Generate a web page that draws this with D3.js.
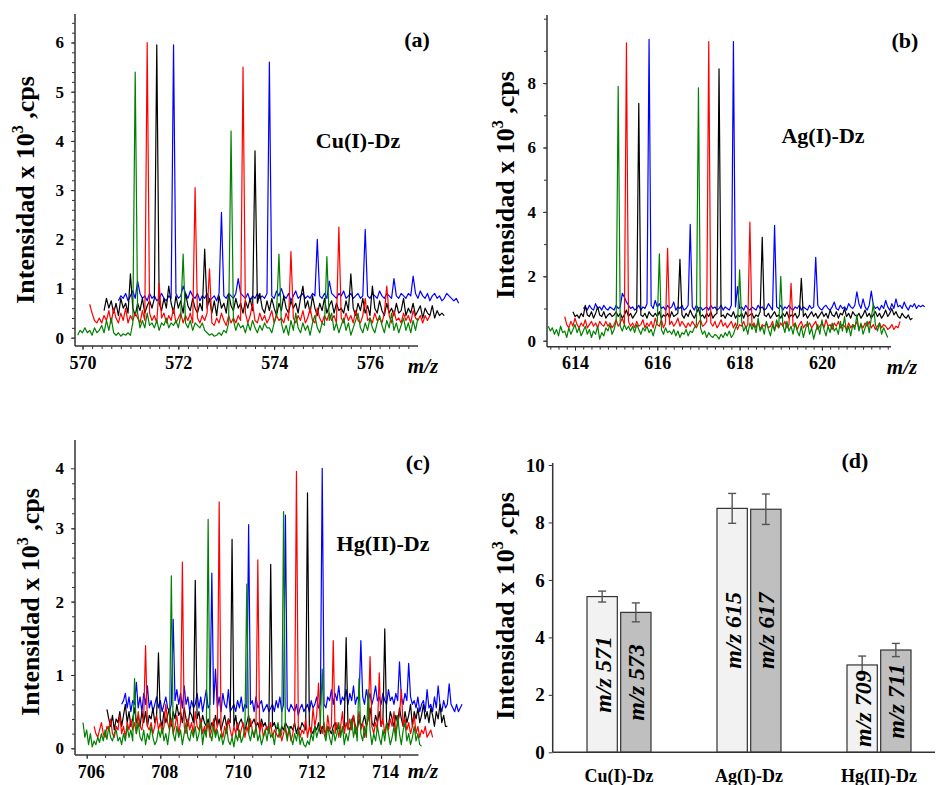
<!DOCTYPE html>
<html>
<head>
<meta charset="utf-8">
<script src="https://cdn.jsdelivr.net/npm/d3@7"></script>
<style>
  body { margin: 0; background: #fff; }
  svg text { font-family: "Liberation Serif", "Times New Roman", serif; font-weight: bold; fill: #000; }
</style>
</head>
<body>
<svg id="chart" width="937" height="785"></svg>
<script>
// sampling step of every spectrum (m/z)
const step = 0.05;

// ---- (a) Cu(I)-Dz, intensities x10^3 cps, one line per m/z unit
const aStart = [569.9, 570.15, 570.45, 570.75]; // green, red, black, blue
const aGreen = [
  .05,.15,.1,.2,.1,.15,.05,.2,.1,.15,.25,.1,.35,.15,.4,.1,.05,.1,.03,.08,
  .05,.1,.05,.3,5.4,.5,.2,.35,.2,.5,.25,.3,.2,.35,.15,.3,.25,.4,.2,.3,
  .25,.35,.2,.45,1.7,.3,.2,.35,.15,.3,.25,.2,.3,.15,.1,.05,.08,.03,.05,.1,
  .05,.15,.1,.3,4.2,.35,.15,.3,.2,.25,.1,.3,.15,.35,.2,.1,.25,.15,.3,.2,
  .2,.1,.3,.5,1.7,.3,.1,.25,.05,.35,.15,.5,.2,.1,.3,.15,.25,.05,.3,.45,
  .2,.1,.3,.25,1.65,.35,.5,.15,.3,.1,.25,.4,.15,.3,.05,.2,.35,.5,.2,.1,
  .3,.15,.4,.2,.1,.3,.45,.25,.1,.35,.2,.5,.15,.3,.1,.25,.4,.15,.3,.1,
  .35,.15,.4
];
const aRed = [
  .68,.5,.35,.3,.4,.3,.45,.35,.55,.3,.6,.4,.3,.5,.35,.6,.3,.45,.35,.5,
  .4,.3,.55,.35,6.0,.5,.35,.45,.3,1.1,.4,.5,.3,.45,.35,.6,.3,.4,.5,.3,
  .45,.35,.5,.3,3.05,.4,.3,.45,.35,.5,1.4,.3,.25,.4,.3,.5,.35,.25,.45,.3,
  .4,.3,.45,.35,5.5,.5,.3,.45,.7,.35,.3,.5,.35,.45,.3,.4,.55,.3,.45,.35,
  .4,.3,.5,.35,1.75,.4,.3,.45,.35,.55,.3,.4,.6,.35,.3,.6,.4,.3,.45,.35,
  .5,.35,.45,.3,2.25,.4,.3,.5,.35,.45,.3,.55,.35,.3,.45,.8,.35,.4,.3,.5,
  .35,.4,.3,.5,1.05,.45,.3,.55,.35,.4,.3,.5,.35,.45,.3,.55,.4,.35,.45,.3,
  .45,.35,.45
];
const aBlack = [
  .55,.8,.6,.75,.5,.7,.45,.8,.6,.7,.5,1.3,.6,.45,.7,.55,.8,.5,.65,.75,
  .6,.8,5.95,.7,.55,.8,.6,1.05,.7,.5,.85,.6,.75,.5,.9,.65,.55,.8,.6,.5,
  .7,.55,1.8,.6,.8,.5,.75,.45,.85,.6,.7,.5,.9,.65,.55,.8,.6,.7,.5,.75,
  .6,.8,.55,3.8,.7,.9,.6,.5,.75,.55,.8,.6,.45,.7,.55,.85,.6,.5,.75,.6,
  .7,.5,.8,1.05,.6,.75,.5,.85,.6,.45,.7,.55,.8,.5,.65,.75,.5,.7,.55,.6,
  .5,.75,.55,1.3,.6,.45,.7,.55,.8,.5,.65,.45,1.05,.6,.5,.75,.55,.45,.7,.5,
  .6,.45,.7,.5,.55,.8,.45,.6,.5,.7,.45,.55,.65,.4,.6,.5,.45,.65,.4,.55,
  .45,.5,.45
];
const aBlue = [
  .75,.85,.8,.9,.75,.85,.95,.8,1.15,.9,.8,.85,.75,.9,.8,.85,.75,.8,.9,.8,
  .75,.85,.8,5.95,.9,.8,.85,1.05,.9,.8,.95,.85,.8,.9,.75,.85,.8,.9,.75,.8,
  .85,.75,.9,2.55,.85,.8,.9,.85,.8,.9,1.2,.9,.85,.8,.9,.75,.85,.8,.9,.8,
  .85,.8,.9,5.6,.85,.8,.95,.85,1.0,.85,.8,.9,.75,.85,.95,.8,.85,.9,.8,.85,
  .8,.9,.85,2.0,.85,.8,.9,.8,1.15,.9,.85,.8,.9,.85,.95,.8,.85,.9,.8,.85,
  .9,.8,.85,2.2,.85,.8,.9,.85,.8,.95,.85,.8,.9,.85,.8,1.2,.85,.8,.9,.85,
  .8,.9,.85,1.25,.9,.8,.95,.85,.8,.9,.75,.85,.9,.8,.85,.75,.8,.9,.85,.8,
  .75,.8,.7
];
const aXTicks = [570, 572, 574, 576];
const aYTicks = [0, 1, 2, 3, 4, 5, 6];

// ---- (b) Ag(I)-Dz
const bStart = [613.35, 613.75, 613.95, 614.2];
const bGreen = [
  .45,.3,.4,.2,.35,.15,.45,.25,.3,.1,.4,.2,.35,.5,.25,.4,.15,.3,.45,.2,
  .35,.1,.3,.2,.45,.05,.25,.15,.4,.3,.5,.2,.35,.6,7.9,.45,.3,.5,.35,.45,
  .3,.45,.25,.5,.35,.2,.4,.3,.45,.25,.35,.15,.4,.6,2.7,.35,.2,.4,.25,.3,
  .2,.35,.15,.3,.1,.25,.2,.35,.15,.3,.25,.4,.5,7.85,.4,.2,.3,.1,.25,.15,
  .1,.2,.15,.05,.2,.1,.25,.15,.3,.1,.2,.4,.5,2.2,.6,.3,.45,.2,.55,.35,
  .5,.25,.7,.3,.45,.2,.6,.35,.15,.5,.3,.65,.4,2.0,.5,.25,.6,.3,.45,.2,
  .55,.3,.15,.45,.1,.35,.6,.2,.4,.05,.3,.5,.2,.65,.35,.15,.45,.25,.55,.3,
  .4,.2,.6,.3,.75,.25,.45,.15,.5,.35,.8,.3,.55,.2,.4,.6,.25,.7,1.15,.5,
  .3,.55,.2,.4,.25,.1
];
const bRed = [
  .75,.5,.4,.6,.45,.7,.5,.4,.55,.45,.65,.4,.5,.6,.45,.55,.4,.6,.5,.45,
  .6,.45,.55,.4,.5,.65,.45,.55,.7,.5,9.25,.6,.45,.55,.4,.6,.45,.5,.65,.4,
  .55,.45,.6,.4,.7,.5,.45,.65,.4,.55,2.87,.5,.6,.45,.55,.7,.45,.6,.5,.4,
  .55,.45,.6,.5,.4,.55,.65,.45,.5,.6,9.29,.55,.45,.6,.4,.5,.65,.45,.55,.4,
  .5,.6,.4,.55,.35,.5,.45,.6,.4,.5,3.68,.45,.55,.4,.6,.35,.5,.45,.55,.4,
  .45,.6,.35,.5,.4,.55,.45,.6,.4,.5,1.78,.45,.55,.35,.5,.6,.4,.5,.45,.55,
  .4,.5,.6,.35,.45,.55,.4,.65,.45,.5,.35,.55,.45,.6,.4,.5,.45,.35,.55,.4,
  .5,.45,.6,.35,.5,.4,.55,.45,.6,.4,.5,.35,.45,.55,.4,.5,.45,.35,.4,.5,
  .35,.45,.4,.6
];
const bBlack = [
  .9,.75,.8,.7,.85,.75,1.1,.8,.75,.9,.7,.85,1.05,.8,.75,.9,.7,.8,.85,.75,
  .8,.9,.75,.85,.7,.8,.95,.75,.85,.7,.8,.9,7.37,.8,.75,.85,.7,.9,.8,.75,
  .85,.75,.9,.7,.8,.75,.85,.7,.9,.75,.8,.85,2.53,.8,.7,.85,.75,.95,.8,.7,
  .85,1.0,.75,.8,.7,.85,.75,.9,.7,.8,.85,8.44,.75,.8,.7,.85,.8,.75,.9,.7,
  .8,.75,.85,.7,.9,.75,.8,.85,.7,.8,.75,.9,3.21,.8,.75,.85,.7,.8,.9,.75,
  .8,.7,.85,.75,.9,.7,.8,.75,.85,.7,.8,1.94,.75,.85,.7,.8,.9,.75,.85,.7,
  .8,.9,.75,.85,.7,.95,.8,.75,.9,.7,.85,.8,1.0,.75,.85,.7,.9,.8,.75,.85,
  .7,.8,.95,.75,.85,.7,.8,.9,.75,.85,.7,.8,.95,.75,.85,1.0,.8,.9,.75,.7,
  .85,.75,.7,.8,.65,.7
];
const bBlue = [
  1.0,1.05,.95,1.1,1.0,.95,1.15,1.0,1.05,.95,1.1,1.0,.95,1.05,1.0,.95,1.1,1.0,1.05,1.47,
  1.35,1.2,1.1,1.0,1.05,.95,1.0,1.1,.95,1.05,1.0,1.15,9.36,1.1,1.0,1.25,1.05,1.15,1.0,1.05,
  .95,1.1,1.0,1.05,1.2,.95,1.05,1.0,1.1,.95,1.0,1.1,3.61,1.05,.95,1.1,1.0,1.05,.95,1.0,
  1.05,.95,1.1,1.0,1.05,.95,1.0,1.1,.95,1.05,1.0,.95,1.1,9.29,1.05,1.68,1.0,1.05,.95,1.1,
  1.0,.95,1.05,1.0,.95,1.1,1.0,1.05,.95,1.0,1.15,1.05,.95,3.58,1.05,1.0,1.1,.95,1.05,1.0,
  1.1,1.0,.95,1.05,1.0,1.1,.95,1.05,1.0,.95,1.1,1.0,1.05,2.59,1.1,1.0,.95,1.05,1.1,1.0,
  .95,1.05,1.2,1.0,.95,1.1,1.0,1.05,.95,1.15,1.05,1.0,1.1,1.52,1.15,1.0,1.3,1.05,.95,1.1,
  1.54,1.1,1.0,1.05,.95,1.1,1.0,1.25,1.05,.95,1.15,1.0,1.3,1.05,1.1,1.0,1.2,1.05,.95,1.1,
  1.05,1.15,1.0,1.1,1.05,1.1,1.05
];
const bXTicks = [614, 616, 618, 620];
const bYTicks = [0, 2, 4, 6, 8];

// ---- (c) Hg(II)-Dz
const cStart = [705.9, 706.2, 706.55, 706.95];
const cGreen = [
  .35,.15,.25,.05,.2,.02,.1,.05,.15,.08,.2,.1,.25,.12,.3,.15,.1,.2,.25,.1,
  .15,.05,.2,.1,.3,.15,.25,.1,.95,.2,.35,.15,.1,.25,.05,.2,.12,.3,.15,.05,
  .1,.25,.15,.3,.1,.2,.05,.25,2.35,.2,.1,.3,.15,.25,.05,.2,.35,.15,.1,.25,
  .15,.3,.1,.2,.35,.05,.25,.15,3.15,.2,.1,.3,.15,.25,.1,.2,.05,.15,.3,.1,
  .05,.15,.02,.2,.1,.25,.08,.15,.3,2.24,.2,.1,.25,.15,.3,.1,.2,.05,.15,.25,
  .1,.3,.15,.2,.05,.25,.35,.15,.2,3.28,.25,.1,.3,.15,.05,.2,.1,.25,.05,.15,
  .05,.02,.1,.05,.2,.1,.3,.15,.25,.35,1.08,.2,.1,.3,.15,.05,.25,.1,.2,.35,
  .15,.3,.05,.2,.1,.25,.4,.15,.3,.1,.95,.2,.1,.3,.15,.8,.25,.05,.2,.1,
  .3,.15,.05,.25,.1,.35,.2,.05,.15,.3,.1,.45,.2,.05,.25,.35,.1,.2,.05,.15,
  .3,.1,.2,.05,.03
];
const cRed = [
  .3,.2,.15,.25,.35,.2,.15,.3,.25,.4,.2,.15,.3,.25,.45,.2,.3,.15,.35,.25,
  .4,.25,.35,.2,.5,.3,.25,.45,1.4,.3,.25,.35,.2,.3,.45,.25,.35,.2,.3,.6,
  .35,.25,.4,.2,.3,.45,.2,.35,2.54,.3,.2,.4,.25,.35,.2,.5,.3,.25,.4,.2,
  .3,.2,.35,.15,.25,.4,.2,.3,3.44,.25,.15,.3,.2,.4,.25,.15,.3,.2,.35,.15,
  .25,.35,.15,.3,.2,.4,.25,.15,.3,2.57,.2,.35,.15,.25,.3,.2,.35,.15,.25,.2,
  .15,.25,.1,.2,.3,.15,.25,.1,.2,.35,3.95,.3,.15,.25,.2,.4,.15,.3,.2,.55,
  .3,.45,.89,.3,.2,.35,.15,.45,.25,.3,1.47,.2,.35,.15,.3,.5,.2,.35,.25,.4,
  .25,.45,.2,.3,.5,.25,.35,.15,.3,.4,1.25,.3,.2,.35,.25,1.03,.3,.4,.2,.35,
  .25,.4,.3,.5,.2,.35,.45,.8,.3,.4,.25,.35,.2,.3,.45,.2,.3,.15,.25,.2,
  .3,.15,.2,.25,.15
];
const cBlack = [
  .53,.4,.3,.45,.25,.4,.35,.5,.3,.45,.6,.35,.5,.3,.4,.55,.35,.45,.3,.5,
  .35,.5,.3,.45,.4,.55,.35,.45,1.3,.4,.3,.5,.35,.45,.55,.3,.5,.4,.6,.45,
  .5,.35,.55,.4,.3,.5,.45,.35,2.29,.4,.5,.3,.45,.35,.3,.4,.25,.35,.3,.45,
  .3,.4,.25,.35,.45,.3,.4,.35,2.85,.3,.45,.25,.35,.4,.3,.25,.35,.45,.3,.35,
  .4,.3,.35,.25,.4,.3,.35,.25,.3,2.51,.3,.35,.25,.3,.2,.3,.25,.35,.3,.25,
  .3,.25,.35,.2,.3,.25,.35,.3,.25,3.59,.3,.25,.2,.3,.25,.35,.2,.3,.25,.2,
  .3,.25,.2,.3,.35,.25,.3,.2,.25,.3,1.51,.3,.25,.35,.45,.3,.25,.4,.3,.35,
  .45,.3,.4,.55,.35,.3,.45,.35,.5,.3,.4,1.63,.35,.3,.5,.4,.3,.45,.35,.55,
  .4,.3,.5,.35,.45,.6,.3,.5,.4,.55,.35,.45,.6,.4,.5,.35,.55,.45,.3,.5,
  .4,.6,.35,.45,.3,.3
];
const cBlue = [
  .6,.65,.75,.55,.7,.5,.65,.6,.9,.55,.7,.5,.75,.6,.85,.55,.65,.5,.6,.7,
  .55,.65,.5,.6,.7,.55,.5,.6,1.76,.65,.8,.6,.75,.55,.85,.6,.7,.5,.65,.55,
  .6,.75,.55,.7,.5,.65,.8,.55,.6,2.39,.6,1.08,.55,.7,.5,.75,.6,.55,.8,.5,
  .55,.6,.5,.65,.55,.7,.5,.6,.55,3.06,.6,.65,.5,.7,.55,.6,.65,.5,.55,.6,
  .5,.55,.6,.5,.65,.55,.7,.5,.6,3.22,.55,.5,.6,.55,.5,.6,.45,.55,.6,.5,
  .55,.6,.5,.65,.55,.6,.7,.55,.6,4.0,.6,.55,.7,.65,.8,.6,.75,.65,.85,.6,
  .7,.65,.8,.6,.75,.65,.85,.6,.7,.65,1.47,.7,.6,.8,.65,.75,.6,.7,.85,.65,
  .7,.6,.75,.65,.6,.8,.65,.7,.6,.75,.65,1.18,.7,.6,.75,.65,1.16,.7,.6,.65,
  .55,.7,.5,.6,.65,.5,.8,.55,.6,.5,.7,.55,.85,.6,.5,.65,.55,.6,.88,.6,
  .55,.5,.6,.5,.55,.6
];
const cXTicks = [706, 708, 710, 712, 714];
const cYTicks = [0, 1, 2, 3, 4];

// ---- (d) mean intensities of the main isotopes
const barGroups = ["Cu(I)-Dz", "Ag(I)-Dz", "Hg(II)-Dz"];
const barIons = [["m/z 571", "m/z 573"], ["m/z 615", "m/z 617"], ["m/z 709", "m/z 711"]];
const barMeans = [[5.42, 4.87], [8.49, 8.46], [3.04, 3.56]];
const barErrors = [[0.19, 0.33], [0.52, 0.53], [0.31, 0.23]];
const dYTicks = [0, 2, 4, 6, 8, 10];

const traceColors = ["#008000", "#ff0000", "#000000", "#0000ff"];

const svg = d3.select("#chart");

//draws the y axis title with the superscript
function yTitle(cx, cy) {
  const t = svg.append("text")
    .attr("transform", `translate(${cx},${cy}) rotate(-90)`)
    .attr("text-anchor", "middle")
    .attr("dy", "0.35em")
    .attr("font-size", 26);
  t.append("tspan").text("Intensidad x 10");
  t.append("tspan").text("3").attr("font-size", 16).attr("dy", -11);
  t.append("tspan").text(" ,cps").attr("dy", 11);
}

function spectrum(p) {
  const g = svg.append("g");
  const x = d3.scaleLinear().domain(p.xDom).range(p.xRng);
  const y = d3.scaleLinear().domain(p.yDom).range(p.yRng);

  // traces, drawn blue first so green ends on top
  const line = d3.line().x(d => x(d[0])).y(d => y(d[1]));
  [3, 2, 1, 0].forEach(k => {
    const pts = p.traces[k].map((v, i) => [p.starts[k] + i * step, v]);
    g.append("path").datum(pts)
      .attr("d", line)
      .attr("fill", "none")
      .attr("stroke", traceColors[k])
      .attr("stroke-width", 1.2)
      .attr("stroke-linejoin", "round");
  });

  //axis lines
  g.append("line").attr("x1", p.axX).attr("x2", p.axX).attr("y1", p.axTop).attr("y2", p.axY)
    .attr("stroke", "#333").attr("stroke-width", 1.5);
  g.append("line").attr("x1", p.axX).attr("x2", p.axRight).attr("y1", p.axY).attr("y2", p.axY)
    .attr("stroke", "#333").attr("stroke-width", 1.5);

  // x ticks
  const xa = g.append("g").attr("transform", `translate(0,${p.axY})`)
    .call(d3.axisBottom(x).tickValues(p.xMinor).tickSize(3).tickFormat(""));
  const xb = g.append("g").attr("transform", `translate(0,${p.axY})`)
    .call(d3.axisBottom(x).tickValues(p.xTicks).tickSize(4).tickPadding(6).tickFormat(d3.format("d")));
  xb.selectAll("text").attr("font-size", 18).attr("dx", p.xLabelShift || 0);

  // y ticks
  const ya = g.append("g").attr("transform", `translate(${p.axX},0)`)
    .call(d3.axisLeft(y).tickValues(p.yMinor).tickSize(3).tickFormat(""));
  const yb = g.append("g").attr("transform", `translate(${p.axX},0)`)
    .call(d3.axisLeft(y).tickValues(p.yTicks).tickSize(4).tickPadding(7).tickFormat(d3.format("d")));
  yb.selectAll("text").attr("font-size", 17);
  [xa, xb, ya, yb].forEach(a => {
    a.select(".domain").remove();
    a.attr("font-family", null);
    a.selectAll("line").attr("stroke", "#333");
  });

  g.append("text").attr("x", p.mzX).attr("y", p.axY + p.mzDy)
    .attr("font-size", 21).attr("font-style", "italic").attr("text-anchor", "middle").text("m/z");
  g.append("text").attr("x", p.tagX).attr("y", p.tagY).attr("dy", "0.35em")
    .attr("font-size", 22).attr("text-anchor", "middle").text(p.tag);
  g.append("text").attr("x", p.nameX).attr("y", p.nameY).attr("dy", "0.35em")
    .attr("font-size", 22).attr("text-anchor", "middle").text(p.name);
  yTitle(p.titleX, p.titleY);
}

spectrum({
  traces: [aGreen, aRed, aBlack, aBlue], starts: aStart,
  xDom: [570, 576], xRng: [82.5, 370], yDom: [0, 6], yRng: [337.7, 42.5],
  axX: 75, axTop: 14, axY: 346, axRight: 418,
  xTicks: aXTicks, xMinor: d3.range(0, 35).map(i => 570 + i * 0.2),
  yTicks: aYTicks, yMinor: d3.range(0, 33).map(i => i * 0.2),
  mzX: 423, mzDy: 27, tag: "(a)", tagX: 417, tagY: 39, name: "Cu(I)-Dz", nameX: 358, nameY: 140,
  titleX: 25, titleY: 190
});

spectrum({
  traces: [bGreen, bRed, bBlack, bBlue], starts: bStart,
  xDom: [614, 620], xRng: [575, 821.9], yDom: [0, 8], yRng: [340.7, 83.1],
  axX: 547, axTop: 15, axY: 346.7, axRight: 891,
  xTicks: bXTicks, xMinor: d3.range(0, 42).map(i => 613.4 + i * 0.2),
  yTicks: bYTicks, yMinor: d3.range(0, 11),
  mzX: 902, mzDy: 27, tag: "(b)", tagX: 905, tagY: 40, name: "Ag(I)-Dz", nameX: 823, nameY: 135,
  titleX: 505, titleY: 185
});

// the printed (c) axis squeezes its top unit, so the scale is polylinear
spectrum({
  traces: [cGreen, cRed, cBlack, cBlue], starts: cStart,
  xDom: [706, 714], xRng: [86.7, 381.1], yDom: [0, 3, 4], yRng: [748.3, 528.3, 468.3],
  axX: 75, axTop: 440, axY: 755, axRight: 418.5,
  xTicks: cXTicks, xMinor: d3.range(0, 18).map(i => 706 + i * 0.5), xLabelShift: 4,
  yTicks: cYTicks, yMinor: d3.range(0, 16).map(i => i * 0.2).concat([3.25, 3.5, 3.75]),
  mzX: 423, mzDy: 23, tag: "(c)", tagX: 418, tagY: 462, name: "Hg(II)-Dz", nameX: 383, nameY: 543,
  titleX: 30, titleY: 602
});

// ---- (d) bar chart
function barchart() {
  const g = svg.append("g");
  const x0 = d3.scaleBand().domain(barGroups).range([554, 944]);
  const x1 = d3.scaleBand().domain([0, 1]).range([-32, 32]).paddingInner(0.1);
  const y = d3.scaleLinear().domain([0, 10]).range([752.3, 465]);
  const fills = ["#f2f2f2", "#bfbfbf"];

  const rows = [];
  barGroups.forEach((grp, i) => {
    [0, 1].forEach(j => rows.push({grp: grp, j: j, ion: barIons[i][j], v: barMeans[i][j], e: barErrors[i][j]}));
  });
  const cx = d => x0(d.grp) + x0.bandwidth() / 2 + x1(d.j);

  g.selectAll("rect").data(rows).enter().append("rect")
    .attr("x", cx)
    .attr("y", d => y(d.v))
    .attr("width", x1.bandwidth())
    .attr("height", d => y(0) - y(d.v))
    .attr("fill", d => fills[d.j])
    .attr("stroke", "#333")
    .attr("stroke-width", 1.2);

  // error bars
  const mid = d => cx(d) + x1.bandwidth() / 2;
  const eb = g.selectAll(".err").data(rows).enter().append("g").attr("class", "err")
    .attr("stroke", "#555").attr("stroke-width", 1.4);
  eb.append("line").attr("x1", mid).attr("x2", mid).attr("y1", d => y(d.v + d.e)).attr("y2", d => y(d.v - d.e));
  eb.append("line").attr("x1", d => mid(d) - 4).attr("x2", d => mid(d) + 4).attr("y1", d => y(d.v + d.e)).attr("y2", d => y(d.v + d.e));
  eb.append("line").attr("x1", d => mid(d) - 4).attr("x2", d => mid(d) + 4).attr("y1", d => y(d.v - d.e)).attr("y2", d => y(d.v - d.e));

  // ion labels inside the bars
  g.selectAll(".ion").data(rows).enter().append("text").attr("class", "ion")
    .attr("transform", d => `translate(${mid(d)},${(y(d.v) + y(0)) / 2}) rotate(-90)`)
    .attr("text-anchor", "middle")
    .attr("dy", "0.35em")
    .attr("font-size", 24)
    .attr("font-style", "italic")
    .text(d => d.ion);

  //axes
  g.append("line").attr("x1", 552.7).attr("x2", 552.7).attr("y1", 463).attr("y2", 752.3)
    .attr("stroke", "#333").attr("stroke-width", 1.5);
  g.append("line").attr("x1", 552.7).attr("x2", 935).attr("y1", 752.3).attr("y2", 752.3)
    .attr("stroke", "#333").attr("stroke-width", 1.5);
  const ya = g.append("g").attr("transform", "translate(552.7,0)")
    .call(d3.axisLeft(y).tickValues(dYTicks).tickSize(4).tickPadding(4).tickFormat(d3.format("d")));
  ya.select(".domain").remove();
  ya.attr("font-family", null);
  ya.selectAll("line").attr("stroke", "#333");
  ya.selectAll("text").attr("font-size", 19);

  g.selectAll(".cat").data(barGroups).enter().append("text").attr("class", "cat")
    .attr("x", d => x0(d) + x0.bandwidth() / 2)
    .attr("y", 776)
    .attr("dy", "0.35em")
    .attr("text-anchor", "middle")
    .attr("font-size", 18)
    .text(d => d);

  g.append("text").attr("x", 855).attr("y", 460).attr("dy", "0.35em")
    .attr("font-size", 22).attr("text-anchor", "middle").text("(d)");
  yTitle(505, 606);
}
barchart();
</script>
</body>
</html>
